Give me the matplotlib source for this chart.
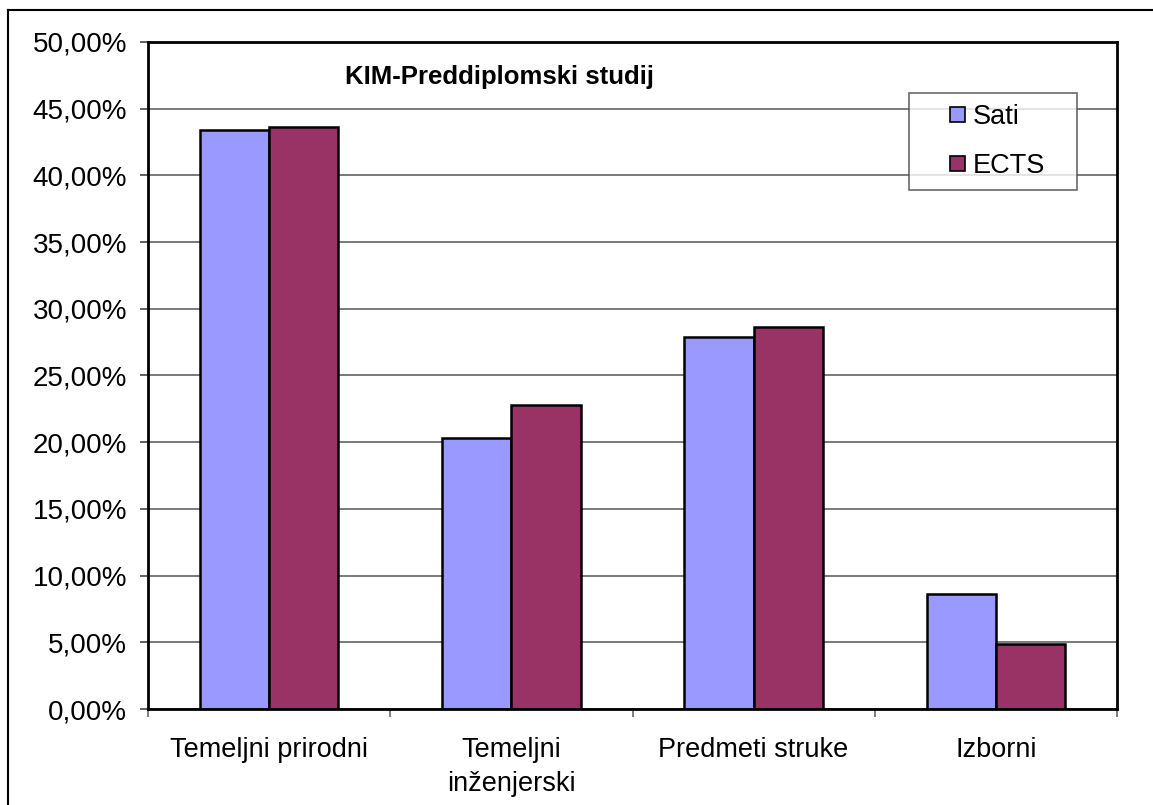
import numpy as np
import matplotlib
matplotlib.use('Agg')
import matplotlib.pyplot as plt
from matplotlib.ticker import FuncFormatter, FixedLocator, MultipleLocator
from matplotlib.patches import Rectangle
from matplotlib.legend_handler import HandlerPatch
from matplotlib.lines import Line2D

# data (percent)
categories = ['Temeljni prirodni', 'Temeljni\ninženjerski', 'Predmeti struke', 'Izborni']
sati = [43.37, 20.28, 27.89, 8.59]
ects = [43.62, 22.82, 28.67, 4.85]
series_names = ['Sati', 'ECTS']
title = 'KIM-Preddiplomski studij'

plt.rcParams['font.family'] = ['Liberation Sans', 'DejaVu Sans']

fig = plt.figure(figsize=(11.53, 8.05), dpi=100)
ax = fig.add_axes([148 / 1153, 1 - 709 / 805, 969 / 1153, 667 / 805])

x = np.arange(len(categories))
w = 1 / 3.5
ax.bar(x - w / 2, sati, w, color='#9999FF', edgecolor='black', linewidth=1.8, zorder=3)
ax.bar(x + w / 2, ects, w, color='#993366', edgecolor='black', linewidth=1.8, zorder=3)

ax.set_xlim(-0.5, len(categories) - 0.5)
ax.set_ylim(0, 50)
ax.yaxis.set_major_locator(MultipleLocator(5))
ax.yaxis.set_major_formatter(FuncFormatter(lambda v, p: f'{v:.2f}'.replace('.', ',') + '%'))
ax.yaxis.grid(True, color='#6e6e6e', linewidth=1.3, zorder=0)

ax.set_xticks(x)
ax.set_xticklabels(categories, fontsize=19.5, linespacing=1.4)
ax.xaxis.set_minor_locator(FixedLocator(np.arange(-0.5, len(categories), 1)))
ax.tick_params(axis='x', which='major', length=0, pad=20)
ax.tick_params(axis='x', which='minor', length=6, width=1.2, color='#666666', direction='out')
ax.tick_params(axis='y', length=6, width=1.2, color='#444444', pad=9, labelsize=20)

for s in ax.spines.values():
    s.set_color('black')
    s.set_linewidth(2)
    s.set_zorder(4)

ax.text((499 - 148) / 969, (709 - 77) / 667, title, transform=ax.transAxes,
        ha='center', va='center', fontsize=18.5, fontweight='bold')


def square_handle(legend, orig_handle, xdescent, ydescent, width, height, fontsize):
    s = 10.8
    return Rectangle((width - s - xdescent, (height - s) / 2 - ydescent), s, s)


handles = [Rectangle((0, 0), 1, 1, facecolor='#9999FF', edgecolor='black', linewidth=1.2),
           Rectangle((0, 0), 1, 1, facecolor='#993366', edgecolor='black', linewidth=1.2)]

bx0 = (909 - 148) / 969
by0 = (709 - 190) / 667
bw = 168 / 969
bh = 97 / 667
leg = ax.legend(handles, series_names, loc='upper left', bbox_to_anchor=(bx0, by0, bw, bh), mode='expand',
                borderaxespad=0, fontsize=19.5, frameon=True, fancybox=False,
                handlelength=1.65, handletextpad=0.3, borderpad=0.42, labelspacing=0.82,
                handler_map={Rectangle: HandlerPatch(patch_func=square_handle)})
leg.get_frame().set_edgecolor('#444444')
leg.get_frame().set_linewidth(1.2)

# outer chart border (only left and top edges visible)
fig.add_artist(Line2D([8 / 1153, 8 / 1153], [0, 1 - 10 / 805], transform=fig.transFigure, color='black', linewidth=1.5))
fig.add_artist(Line2D([8 / 1153, 1], [1 - 10 / 805, 1 - 10 / 805], transform=fig.transFigure, color='black', linewidth=1.5))

fig.savefig('out.png', dpi=100)
